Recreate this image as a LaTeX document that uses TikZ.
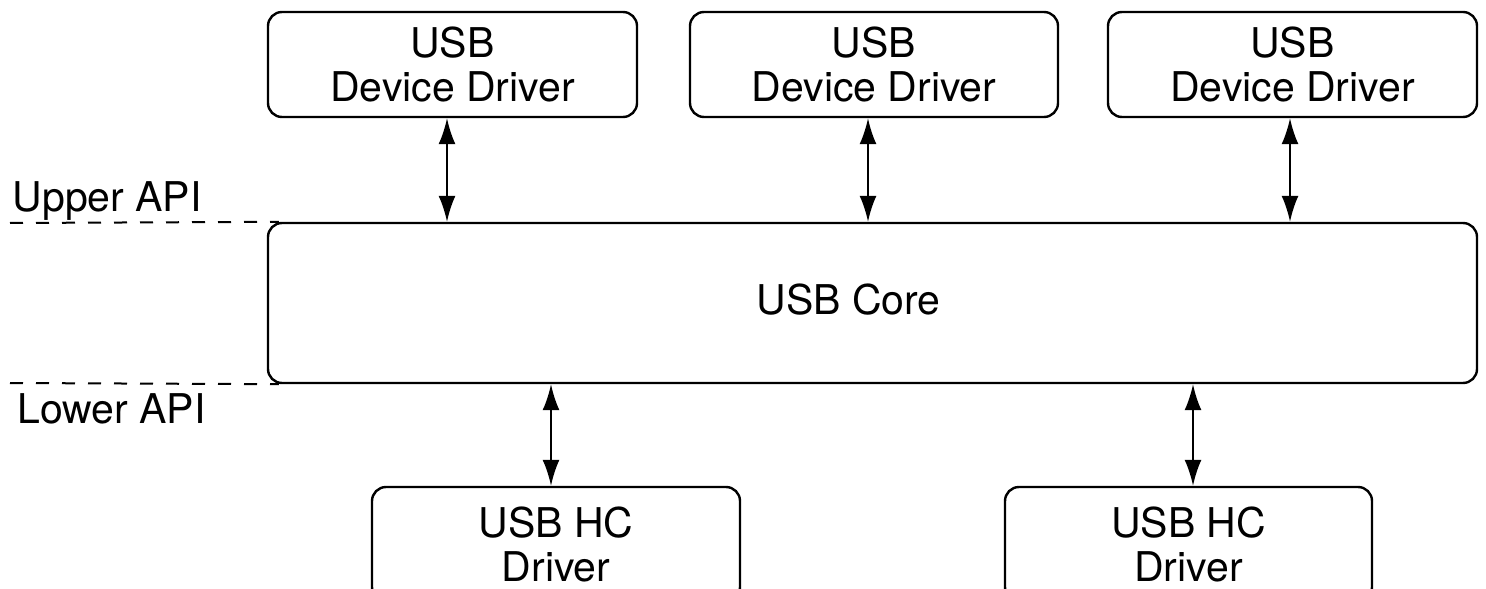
\documentclass[tikz,border=0pt]{standalone}
\usepackage{fontspec}
\setmainfont{TeX Gyre Heros}
\usetikzlibrary{arrows.meta}
\begin{document}
\begin{tikzpicture}[x=0.5pt,y=-0.5pt,
  box/.style={draw=black, line width=1.2pt, rounded corners=7pt, inner sep=0pt,
    align=center, font=\fontsize{20.5pt}{22pt}\selectfont},
  txt/.style={inner sep=0pt, font=\fontsize{20.5pt}{22pt}\selectfont},
  arr/.style={line width=1pt, {Latex[length=13pt,width=8.5pt]}-{Latex[length=13pt,width=8.5pt]}},
  api/.style={line width=1pt, dash pattern=on 6.5pt off 6.5pt}]
\useasboundingbox (0,0) rectangle (1486,588);
\clip (0,0) rectangle (1486,588);
% top boxes
\node[box, minimum width=184.5pt, minimum height=52.5pt] (d1) at (452.5,64.5) {USB\\Device Driver};
\node[box, minimum width=184pt, minimum height=52.5pt] (d2) at (874,64.5) {USB\\Device Driver};
\node[box, minimum width=184.5pt, minimum height=52.5pt] (d3) at (1292.5,64.5) {USB\\Device Driver};
% core
\node[box, minimum width=604.5pt, minimum height=80pt] (core) at (872.5,303) {};
\node[txt] (coretxt) at (848.5,300) {USB Core};
% bottom boxes
\node[box, minimum width=184pt, minimum height=57pt] (h1) at (556,544) {USB HC\\Driver};
\node[box, minimum width=183.5pt, minimum height=57pt] (h2) at (1188.5,544) {USB HC\\Driver};
% arrows
\draw[arr] ([xshift=-2.75pt]d1.south) -- ([xshift=-2.75pt]d1.south |- core.north);
\draw[arr] ([xshift=-3pt]d2.south) -- ([xshift=-3pt]d2.south |- core.north);
\draw[arr] ([xshift=-1.25pt]d3.south) -- ([xshift=-1.25pt]d3.south |- core.north);
\draw[arr] ([xshift=-2.5pt]h1.north) -- ([xshift=-2.5pt]h1.north |- core.south);
\draw[arr] ([xshift=2.25pt]h2.north) -- ([xshift=2.25pt]h2.north |- core.south);
% API lines
\coordinate (upL) at (10,223);
\coordinate (loL) at (10,383);
\draw[api] (upL) -- ([xshift=6pt]core.north west);
\draw[api] (loL) -- ([xshift=6pt]core.south west);
\node[txt, anchor=base west] (upper) at (12,212) {Upper API};
\node[txt, anchor=base west] (lower) at (17,423) {Lower API};
\end{tikzpicture}
\end{document}
